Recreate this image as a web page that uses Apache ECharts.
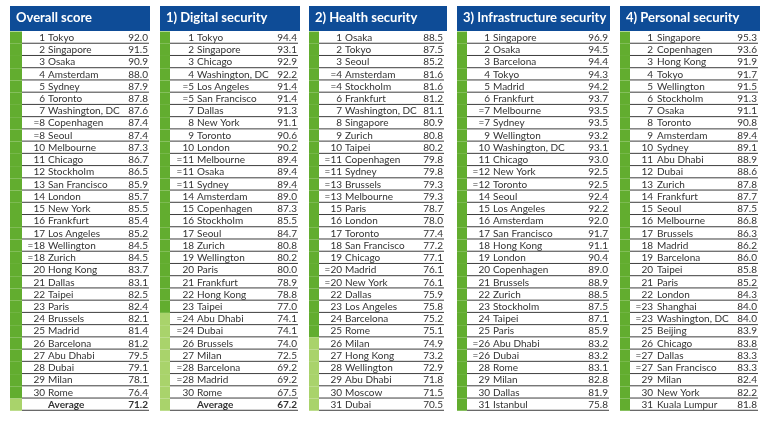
<!DOCTYPE html>
<html><head><meta charset="utf-8">
<script src="https://cdn.jsdelivr.net/npm/echarts@6/dist/echarts.min.js"></script>
<style>html,body{margin:0;padding:0;background:#fff}#c{width:765px;height:423px}</style>
</head><body><div id="c"></div>
<script>
// ---------- DATA ----------
const panelTitles = ['Overall score', '1) Digital security', '2) Health security', '3) Infrastructure security', '4) Personal security'];

const overallRanks = ['1','2','3','4','5','6','7','=8','=8','10','11','12','13','14','15','16','17','=18','=18','20','21','22','23','24','25','26','27','28','29','30'];
const overallCities = ['Tokyo','Singapore','Osaka','Amsterdam','Sydney','Toronto','Washington, DC','Copenhagen','Seoul','Melbourne','Chicago','Stockholm','San Francisco','London','New York','Frankfurt','Los Angeles','Wellington','Zurich','Hong Kong','Dallas','Taipei','Paris','Brussels','Madrid','Barcelona','Abu Dhabi','Dubai','Milan','Rome'];
const overallValues = [92.0,91.5,90.9,88.0,87.9,87.8,87.6,87.4,87.4,87.3,86.7,86.5,85.9,85.7,85.5,85.4,85.2,84.5,84.5,83.7,83.1,82.5,82.4,82.1,81.4,81.2,79.5,79.1,78.1,76.4];
const overallAverage = 71.2;

const digitalRanks = ['1','2','3','4','=5','=5','7','8','9','10','=11','=11','=11','14','15','16','17','18','19','20','21','22','23','=24','=24','26','27','=28','=28','30'];
const digitalCities = ['Tokyo','Singapore','Chicago','Washington, DC','Los Angeles','San Francisco','Dallas','New York','Toronto','London','Melbourne','Osaka','Sydney','Amsterdam','Copenhagen','Stockholm','Seoul','Zurich','Wellington','Paris','Frankfurt','Hong Kong','Taipei','Abu Dhabi','Dubai','Brussels','Milan','Barcelona','Madrid','Rome'];
const digitalValues = [94.4,93.1,92.9,92.2,91.4,91.4,91.3,91.1,90.6,90.2,89.4,89.4,89.4,89.0,87.3,85.5,84.7,80.8,80.2,80.0,78.9,78.8,77.0,74.1,74.1,74.0,72.5,69.2,69.2,67.5];
const digitalAverage = 67.2;

const healthRanks = ['1','2','3','=4','=4','6','7','8','9','10','=11','=11','=13','=13','15','16','17','18','19','=20','=20','22','23','24','25','26','27','28','29','30','31'];
const healthCities = ['Osaka','Tokyo','Seoul','Amsterdam','Stockholm','Frankfurt','Washington, DC','Singapore','Zurich','Taipei','Copenhagen','Sydney','Brussels','Melbourne','Paris','London','Toronto','San Francisco','Chicago','Madrid','New York','Dallas','Los Angeles','Barcelona','Rome','Milan','Hong Kong','Wellington','Abu Dhabi','Moscow','Dubai'];
const healthValues = [88.5,87.5,85.2,81.6,81.6,81.2,81.1,80.9,80.8,80.2,79.8,79.8,79.3,79.3,78.7,78.0,77.4,77.2,77.1,76.1,76.1,75.9,75.8,75.2,75.1,74.9,73.2,72.9,71.8,71.5,70.5];

const infraRanks = ['1','2','3','4','5','6','=7','=7','9','10','11','=12','=12','14','15','16','17','18','19','20','21','22','23','24','25','=26','=26','28','29','30','31'];
const infraCities = ['Singapore','Osaka','Barcelona','Tokyo','Madrid','Frankfurt','Melbourne','Sydney','Wellington','Washington, DC','Chicago','New York','Toronto','Seoul','Los Angeles','Amsterdam','San Francisco','Hong Kong','London','Copenhagen','Brussels','Zurich','Stockholm','Taipei','Paris','Abu Dhabi','Dubai','Rome','Milan','Dallas','Istanbul'];
const infraValues = [96.9,94.5,94.4,94.3,94.2,93.7,93.5,93.5,93.2,93.1,93.0,92.5,92.5,92.4,92.2,92.0,91.7,91.1,90.4,89.0,88.9,88.5,87.5,87.1,85.9,83.2,83.2,83.1,82.8,81.9,75.8];

const personalRanks = ['1','2','3','4','5','6','7','8','9','10','11','12','13','14','15','16','17','18','19','20','21','22','=23','=23','25','26','=27','=27','29','30','31'];
const personalCities = ['Singapore','Copenhagen','Hong Kong','Tokyo','Wellington','Stockholm','Osaka','Toronto','Amsterdam','Sydney','Abu Dhabi','Dubai','Zurich','Frankfurt','Seoul','Melbourne','Brussels','Madrid','Barcelona','Taipei','Paris','London','Shanghai','Washington, DC','Beijing','Chicago','Dallas','San Francisco','Milan','New York','Kuala Lumpur'];
const personalValues = [95.3,93.6,91.9,91.7,91.5,91.3,91.1,90.8,89.4,89.1,88.9,88.6,87.8,87.7,87.5,86.8,86.3,86.2,86.0,85.8,85.2,84.3,84.0,84.0,83.9,83.8,83.3,83.3,82.4,82.2,81.8];

// ---------- LAYOUT / STYLE ----------
const layouts = [
  {left:10,  width:140, strip:12, rankR:35, cityL:38, valR:138},
  {left:160, width:140, strip:10, rankR:34, cityL:37, valR:137},
  {left:309, width:138, strip:10, rankR:33, cityL:36, valR:134},
  {left:457, width:153, strip:10, rankR:33, cityL:36, valR:151},
  {left:620, width:140, strip:10, rankR:33, cityL:37, valR:137}
];
const HEADER = '#0e4c97', DARK = '#62ad2f', LIGHT = '#a9d36b', TXT = '#333333';
const FONT = 'Lato', FS = 10, NROWS = 32, GRID_TOP = 31.5, ROW_H = 12.5;

function buildRows(ranks, cities, values, avg){
  const rows = ranks.map((r,i)=>({rank:r, city:cities[i], value:values[i], bold:false}));
  if (avg !== undefined) rows.push({rank:'', city:'Average', value:avg, bold:true});
  return rows;
}
const panels = [
  buildRows(overallRanks, overallCities, overallValues, overallAverage),
  buildRows(digitalRanks, digitalCities, digitalValues, digitalAverage),
  buildRows(healthRanks, healthCities, healthValues),
  buildRows(infraRanks, infraCities, infraValues),
  buildRows(personalRanks, personalCities, personalValues)
];

const cats = Array.from({length:NROWS}, (_,i)=>String(i));
const grids = [], xAxes = [], yAxes = [], series = [], graphics = [];

panels.forEach((rows, k)=>{
  const L = layouts[k];
  grids.push({left:L.left, width:L.width, top:GRID_TOP, height:NROWS*ROW_H});
  xAxes.push({gridIndex:k, type:'value', min:0, max:1, show:false});
  yAxes.push({gridIndex:k, type:'category', data:cats, inverse:true, show:false, boundaryGap:true});
  series.push({
    type:'custom', xAxisIndex:k, yAxisIndex:k, silent:true,
    data: rows.map((r,i)=>[0, i, r.value]),
    encode:{x:0, y:1},
    renderItem: function(params, api){
      const i = api.value(1);
      const row = rows[i];
      const c = api.coord([0, i]);
      const h = api.size([0, 1])[1];
      const x0 = params.coordSys.x;
      const yTop = c[1] - h/2, cy = c[1];
      const font = (row.bold ? 'bold ' : '') + FS + 'px ' + FONT;
      return {type:'group', children:[
        {type:'rect', shape:{x:x0, y:yTop, width:L.strip, height:h}, style:{fill: row.value >= 75 ? DARK : LIGHT}},
        {type:'line', shape:{x1:x0+L.strip, y1:yTop+h-0.5, x2:x0+L.valR+1, y2:yTop+h-0.5}, style:{stroke:'#3d3d3d', lineWidth:1}},
        {type:'text', style:{x:x0+L.rankR, y:cy, text:row.rank, align:'right', verticalAlign:'middle', font:font, fill:TXT}},
        {type:'text', style:{x:x0+L.cityL, y:cy, text:row.city, align:'left', verticalAlign:'middle', font:font, fill:TXT}},
        {type:'text', style:{x:x0+L.valR, y:cy, text:row.value.toFixed(1), align:'right', verticalAlign:'middle', font:font, fill:TXT}}
      ]};
    }
  });
  graphics.push({type:'rect', left:L.left, top:6, shape:{width:L.width, height:25}, style:{fill:HEADER}});
  graphics.push({type:'text', left:L.left+6, top:11, style:{text:panelTitles[k], fill:'#fff', font:'bold 13px ' + FONT}});
});

const chart = echarts.init(document.getElementById('c'), null, {renderer:'canvas'});
chart.setOption({animation:false, grid:grids, xAxis:xAxes, yAxis:yAxes, series:series, graphic:graphics});
</script></body></html>
